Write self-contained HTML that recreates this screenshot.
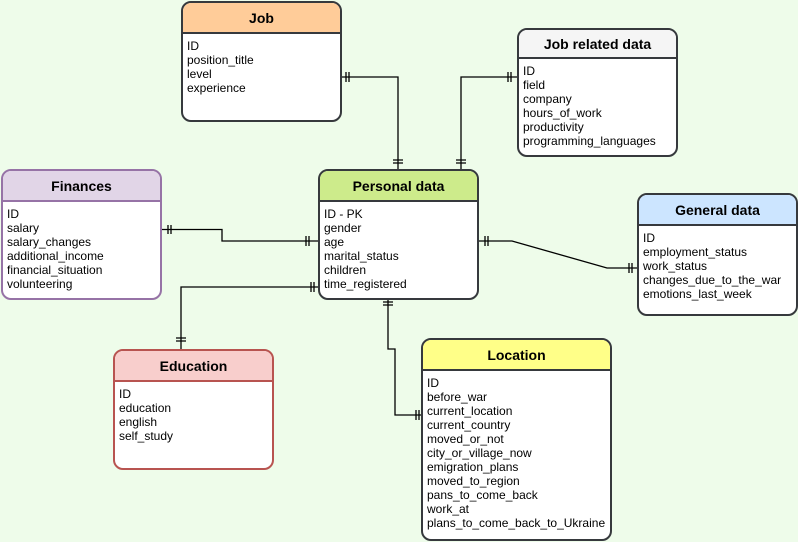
<!DOCTYPE html>
<html><head><meta charset="utf-8"><style>
body{margin:0;width:798px;height:542px;background:#eefcea;position:relative;overflow:hidden;font-family:"Liberation Sans",Arial,sans-serif}
.b{position:absolute;box-sizing:border-box;border:2px solid #36393d;border-radius:10px;background:#fff;overflow:hidden}
.h{height:29px;border-bottom:2px solid #36393d;box-sizing:border-box;text-align:center;font-weight:bold;font-size:14px;line-height:28px;color:#000}
.t{padding:5px 0 0 4px;font-size:12px;line-height:14px;color:#000}
svg{position:absolute;left:0;top:0}
</style></head><body>
<svg width="798" height="542" fill="none" stroke="#000" stroke-width="1.3">
<polyline points="342,77 398,77 398,169"/>
<path d="M346,72v10M349,72v10M393,160h10M393,163h10"/>
<polyline points="517,77 461,77 461,169"/>
<path d="M508,72v10M511,72v10M456,160h10M456,163h10"/>
<polyline points="161,229.5 222,229.5 222,241 318,241"/>
<path d="M168,225v9M171,225v9M306,236v10M309,236v10"/>
<polyline points="478,241 512,241 607,268 637,268"/>
<path d="M485,236v10M488,236v10M629,263v10M632,263v10"/>
<polyline points="318,287 181,287 181,349"/>
<path d="M311,282v10M314,282v10M176,338h10M176,341h10"/>
<polyline points="388,299 388,349 395,349 395,415 421,415"/>
<path d="M383,302h10M383,305h10M416,410v10M419,410v10"/>
</svg>
<div class="b" style="left:181px;top:1px;width:161px;height:121px"><div class="h" style="background:#ffcc99;height:31px;line-height:30px">Job</div><div class="t">ID<br>position_title<br>level<br>experience</div></div>
<div class="b" style="left:517px;top:28px;width:161px;height:129px"><div class="h" style="background:#f5f5f5">Job related data</div><div class="t">ID<br>field<br>company<br>hours_of_work<br>productivity<br>programming_languages</div></div>
<div class="b" style="left:1px;top:169px;width:161px;height:131px;border-color:#9673a6"><div class="h" style="background:#e1d5e7;border-color:#9673a6;height:31px;line-height:30px">Finances</div><div class="t">ID<br>salary<br>salary_changes<br>additional_income<br>financial_situation<br>volunteering</div></div>
<div class="b" style="left:318px;top:169px;width:161px;height:131px"><div class="h" style="background:#cdeb8b;height:31px;line-height:30px">Personal data</div><div class="t">ID - PK<br>gender<br>age<br>marital_status<br>children<br>time_registered</div></div>
<div class="b" style="left:637px;top:193px;width:161px;height:123px"><div class="h" style="background:#cce5ff;height:31px;line-height:30px">General data</div><div class="t">ID<br>employment_status<br>work_status<br>changes_due_to_the_war<br>emotions_last_week</div></div>
<div class="b" style="left:113px;top:349px;width:161px;height:121px;border-color:#b85450"><div class="h" style="background:#f8cecc;border-color:#b85450;height:31px;line-height:30px">Education</div><div class="t">ID<br>education<br>english<br>self_study</div></div>
<div class="b" style="left:421px;top:338px;width:191px;height:203px"><div class="h" style="background:#ffff88;height:31px;line-height:30px">Location</div><div class="t">ID<br>before_war<br>current_location<br>current_country<br>moved_or_not<br>city_or_village_now<br>emigration_plans<br>moved_to_region<br>pans_to_come_back<br>work_at<br>plans_to_come_back_to_Ukraine</div></div>
</body></html>
